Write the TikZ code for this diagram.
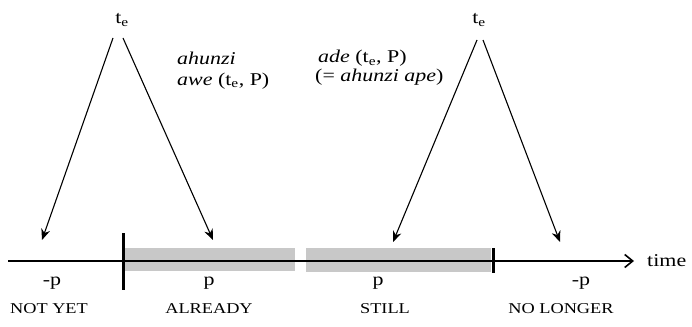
\documentclass[tikz,border=0pt]{standalone}
\usepackage{fontspec}
\setmainfont[FakeStretch=1.22]{Liberation Serif}
\usetikzlibrary{arrows.meta,positioning}
\definecolor{stategray}{RGB}{200,200,200}
\tikzset{
  lbl/.style={font=\fontsize{18}{20}\selectfont, inner sep=0pt},
  phase/.style={font=\fontsize{15}{17}\selectfont, inner sep=0pt},
  pointer/.style={line width=1.1pt, -{Stealth[length=11pt,width=9pt]}},
  state/.style={fill=stategray, draw=none},
  bound/.style={line width=3pt}
}
\begin{document}
\begin{tikzpicture}[x=1pt,y=-1pt]
    \useasboundingbox (0,0) rectangle (692,326);

    % states on the time axis
    \fill[state] (125,248) rectangle (295,271);
    \fill[state] (306,248) rectangle (491,272);

    % time axis
    \coordinate (t0) at (8,261);
    \node[lbl, anchor=west] (time) at (647,261) {time};
    \draw[line width=1.6pt, -{Straight Barb[length=8pt,width=13pt]}] (t0) -- ([xshift=-13pt]time.west);
    \draw[bound] (123,233) -- (123,290);
    \draw[bound] (493,248) -- (493,273);

    % evaluation times
    \node[lbl] (te1) at (122,20) {t\textsubscript{e}};
    \node[lbl] (te2) at (479,20) {t\textsubscript{e}};
    \coordinate (notyet) at (42,240);
    \coordinate (already) at (213,240);
    \coordinate (still) at (393,242);
    \coordinate (nolonger) at (560,242);
    \draw[pointer] (113,38) -- (notyet);
    \draw[pointer] (123,38) -- (already);
    \draw[pointer] (477,40) -- (still);
    \draw[pointer] (483,40) -- (nolonger);

    % markers
    \node[lbl, anchor=base west] (ahunzi) at (177,65) {\textit{ahunzi}};
    \node[lbl, anchor=base west] (awe) at (177,85) {\textit{awe} (t\textsubscript{e}, P)};
    \node[lbl, anchor=base west] (ade) at (318,63) {\textit{ade} (t\textsubscript{e}, P)};
    \node[lbl, anchor=base west] (ape) at (315,82) {(= \textit{ahunzi ape})};

    % polarity
    \node[lbl, anchor=base] (p1) at (52,285) {-p};
    \node[lbl, anchor=base] (p2) at (209,285) {p};
    \node[lbl, anchor=base] (p3) at (378,285) {p};
    \node[lbl, anchor=base] (p4) at (581,285) {-p};

    % phases
    \node[phase, anchor=base] (ph1) at (49,313) {NOT YET};
    \node[phase, anchor=base] (ph2) at (209,313) {ALREADY};
    \node[phase, anchor=base] (ph3) at (385,313) {STILL};
    \node[phase, anchor=base] (ph4) at (561,313) {NO LONGER};
\end{tikzpicture}
\end{document}
